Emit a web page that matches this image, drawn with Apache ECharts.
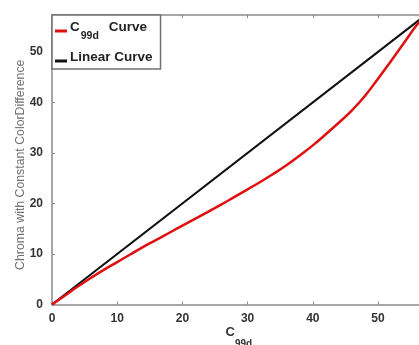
<!DOCTYPE html>
<html>
<head>
<meta charset="utf-8">
<script src="https://cdn.jsdelivr.net/npm/echarts@6/dist/echarts.min.js"></script>
<style>
html,body{margin:0;padding:0;background:#fff;}
#chart{width:419px;height:345px;}
</style>
</head>
<body>
<div id="chart"></div>
<script>
// Data
var c99dX = [0, 2, 4, 6, 8, 10, 12, 14, 16, 18, 20, 22, 24, 26, 28, 30, 32, 34, 36, 38, 40, 42, 44, 46, 48, 50, 52, 54, 56, 57.3];
var c99dY = [0, 1.8, 3.6, 5.3, 6.9, 8.4, 9.9, 11.4, 12.8, 14.2, 15.6, 17.0, 18.4, 19.8, 21.3, 22.8, 24.3, 25.9, 27.6, 29.5, 31.5, 33.7, 36.0, 38.4, 41.3, 44.7, 48.2, 51.8, 55.4, 57.3];
var linearX = [0, 57.3];
var linearY = [0, 57.3];
var xTicks = [0, 10, 20, 30, 40, 50];
var yTicks = [0, 10, 20, 30, 40, 50];
var seriesNames = ['C99d Curve', 'Linear Curve'];

function pairs(xs, ys) { return xs.map(function (x, i) { return [x, ys[i]]; }); }

var FONT = 'Liberation Sans, Arial, sans-serif';
var axisCol = '#8a8a8a';
var labelStyle = { color: '#333', fontWeight: 'bold', fontSize: 12, fontFamily: FONT };

var chart = echarts.init(document.getElementById('chart'), null, { renderer: 'canvas' });
chart.setOption({
  backgroundColor: '#fff',
  animation: false,
  grid: { left: 52, top: 15, width: 373.6, height: 289.5, containLabel: false, outerBoundsMode: 'none' },
  legend: {
    data: seriesNames,
    orient: 'vertical',
    left: 52,
    top: 15,
    padding: [5, 8, 5, 3],
    itemGap: 8,
    itemWidth: 12,
    itemHeight: 3,
    icon: 'rect',
    borderColor: '#707070',
    borderWidth: 1.5,
    backgroundColor: '#fff',
    formatter: function (name) {
      if (name === seriesNames[0]) return '{c|C}{s|99d}{c|Curve}';
      return '{c|Linear Curve}';
    },
    textStyle: {
      fontFamily: FONT,
      color: '#222',
      fontWeight: 'bold',
      fontSize: 13.5,
      padding: [0, 0, 0, -2],
      rich: {
        c: { fontFamily: FONT, fontWeight: 'bold', fontSize: 13.5, color: '#222', verticalAlign: 'top', lineHeight: 22 },
        s: { fontFamily: FONT, fontWeight: 'bold', fontSize: 10.5, color: '#222', verticalAlign: 'bottom', lineHeight: 22, padding: [0, 10, 0, 1] }
      }
    }
  },
  xAxis: [{
    type: 'value', min: 0, max: 57.3, interval: 10,
    position: 'bottom',
    name: '{c|C}{s|99d}',
    nameLocation: 'middle',
    nameGap: 21,
    nameMoveOverlap: false,
    nameTextStyle: {
      rich: {
        c: { fontFamily: FONT, fontWeight: 'bold', fontSize: 13, color: '#333', verticalAlign: 'top', lineHeight: 24 },
        s: { fontFamily: FONT, fontWeight: 'bold', fontSize: 10, color: '#333', verticalAlign: 'bottom', lineHeight: 24 }
      }
    },
    axisLine: { show: true, onZero: false, lineStyle: { color: axisCol, width: 1.5 } },
    axisTick: { show: true, inside: true, length: 3, lineStyle: { color: axisCol } },
    axisLabel: Object.assign({ margin: 8, formatter: function (v) { return xTicks.indexOf(v) >= 0 ? String(v) : ''; } }, labelStyle),
    splitLine: { show: false }
  }, {
    type: 'value', min: 0, max: 57.3, interval: 10,
    position: 'top',
    axisLine: { show: true, onZero: false, lineStyle: { color: axisCol, width: 1.5 } },
    axisTick: { show: true, inside: true, length: 3, lineStyle: { color: axisCol } },
    axisLabel: { show: false },
    splitLine: { show: false }
  }],
  yAxis: [{
    type: 'value', min: 0, max: 57.3, interval: 10,
    position: 'left',
    name: 'Chroma with Constant ColorDifference',
    nameLocation: 'middle',
    nameGap: 25,
    nameMoveOverlap: false,
    nameTextStyle: { color: '#707070', fontSize: 12.3, fontFamily: FONT, padding: [0, 10, 0, 0] },
    axisLine: { show: true, onZero: false, lineStyle: { color: axisCol, width: 1.5 } },
    axisTick: { show: true, inside: true, length: 3, lineStyle: { color: axisCol } },
    axisLabel: Object.assign({ margin: 9, formatter: function (v) { return yTicks.indexOf(v) >= 0 ? String(v) : ''; } }, labelStyle),
    splitLine: { show: false }
  }, {
    type: 'value', min: 0, max: 57.3, interval: 10,
    position: 'right',
    axisLine: { show: true, onZero: false, lineStyle: { color: axisCol, width: 1.5 } },
    axisTick: { show: true, inside: true, length: 3, lineStyle: { color: axisCol } },
    axisLabel: { show: false },
    splitLine: { show: false }
  }],
  series: [{
    name: seriesNames[0],
    type: 'line',
    smooth: true,
    showSymbol: false,
    data: pairs(c99dX, c99dY),
    lineStyle: { color: '#e01010', width: 2.5 },
    itemStyle: { color: '#e01010' },
    z: 3
  }, {
    name: seriesNames[1],
    type: 'line',
    showSymbol: false,
    data: pairs(linearX, linearY),
    lineStyle: { color: '#111', width: 2 },
    itemStyle: { color: '#111' },
    z: 2
  }]
});
</script>
</body>
</html>
